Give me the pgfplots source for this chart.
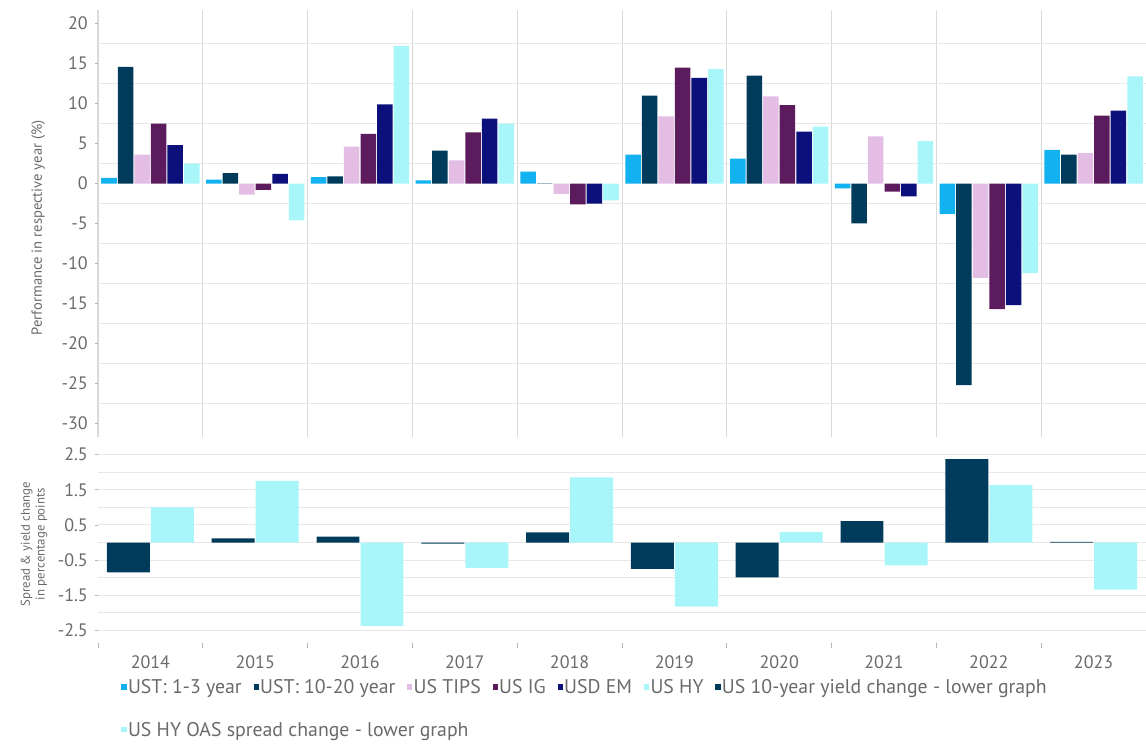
\documentclass[border=0pt]{standalone}
\usepackage{fontspec}
\setmainfont{PT Sans}
\usepackage{pgfplots}
\usepackage{pgfplotstable}
\pgfplotsset{compat=1.18}
\definecolor{c1}{HTML}{12B2F0}
\definecolor{c2}{HTML}{003B5C}
\definecolor{c3}{HTML}{E3BDE3}
\definecolor{c4}{HTML}{5B1B5C}
\definecolor{c5}{HTML}{0B107A}
\definecolor{c6}{HTML}{A9F6FA}
\definecolor{tk}{HTML}{6A6A6A}

\pgfplotstableread{
x a b c d e f
0 0.7 14.6 3.6 7.5 4.8 2.5
1 0.5 1.3 -1.4 -0.8 1.2 -4.6
2 0.8 0.9 4.6 6.2 9.9 17.2
3 0.4 4.1 2.9 6.4 8.1 7.5
4 1.5 -0.05 -1.3 -2.6 -2.5 -2.1
5 3.6 11.0 8.4 14.5 13.2 14.3
6 3.1 13.5 10.9 9.8 6.5 7.1
7 -0.6 -5.0 5.9 -1.0 -1.6 5.3
8 -3.8 -25.2 -11.8 -15.7 -15.2 -11.2
9 4.2 3.6 3.8 8.5 9.1 13.4
}\toptab

\pgfplotstableread{
x y s
0 -0.85 1.0
1 0.12 1.75
2 0.17 -2.37
3 -0.03 -0.72
4 0.29 1.85
5 -0.75 -1.82
6 -0.99 0.3
7 0.61 -0.65
8 2.37 1.63
9 0.02 -1.34
}\lowtab

\begin{document}
\begin{tikzpicture}
\path[use as bounding box] (0,0) rectangle (573pt,372pt);
\pgfplotsset{
  common/.style={
    scale only axis, width=524pt, anchor=south west,
    xmin=-0.5, xmax=9.5,
    axis line style={draw=none},
    tick align=outside,
    major tick length=1.6pt, minor tick length=0pt,
    tick style={tk!50, line width=0.4pt},
    ticklabel style={font=\fontsize{9}{10}\selectfont, text=tk},
    ylabel style={text=tk, align=center, anchor=center},
    minor y grid style={black!9, line width=0.5pt},
    major y grid style={black!9, line width=0.5pt},
    ytick pos=left,
  }
}
% upper axis
\begin{axis}[common,
  at={(49pt,153.5pt)}, height=213.5pt,
  ymin=-31.7, ymax=21.7,
  ytick={-30,-25,...,20},
  yticklabels={-30,-25,-20,-15,-10,-5,0,5,10,15,20},
  minor ytick={-27.5,-22.5,...,17.5},
  yminorgrids,
  xtick={-0.5,0.5,...,8.5}, xticklabels={},
  xmajorgrids, major x grid style={black!15, line width=0.5pt},
  xtick style={draw=none},
  ylabel={Performance in respective year (\%)},
  ylabel style={font=\fontsize{7.3}{8}\selectfont, at={(axis description cs:-0.057,0.49)}},
]
\addplot[ybar, bar width=0.148, bar shift=-0.395, fill=c1, draw=none] table[x=x,y=a]{\toptab};
\addplot[ybar, bar width=0.148, bar shift=-0.237, fill=c2, draw=none] table[x=x,y=b]{\toptab};
\addplot[ybar, bar width=0.148, bar shift=-0.079, fill=c3, draw=none] table[x=x,y=c]{\toptab};
\addplot[ybar, bar width=0.148, bar shift=0.079, fill=c4, draw=none] table[x=x,y=d]{\toptab};
\addplot[ybar, bar width=0.148, bar shift=0.237, fill=c5, draw=none] table[x=x,y=e]{\toptab};
\addplot[ybar, bar width=0.148, bar shift=0.395, fill=c6, draw=none] table[x=x,y=f]{\toptab};
\end{axis}
% lower axis
\begin{axis}[common,
  at={(49pt,50.5pt)}, height=99pt,
  ymin=-2.855, ymax=2.77,
  ytick={-2.5,-1.5,...,2.5},
  yticklabels={-2.5,-1.5,-0.5,0.5,1.5,2.5},
  minor ytick={-2,-1,...,2},
  ymajorgrids, yminorgrids,
  xtick={0,...,9},
  xticklabels={2014,2015,2016,2017,2018,2019,2020,2021,2022,2023},
  xtick pos=bottom,
  major x tick style={draw=none},
  extra x ticks={-0.5,0.5,...,9.5},
  extra x tick labels={},
  extra x tick style={major x tick style={tk!50,draw=tk!50}, major tick length=2.5pt, xmajorgrids=false},
  xticklabel style={yshift=-1pt},
  ylabel={Spread \& yield change\\in percentage points},
  ylabel style={font=\fontsize{6.4}{7.4}\selectfont, at={(axis description cs:-0.061,0.5)}},
  legend columns=7,
  legend cell align=left,
  legend style={at={(axis description cs:0.022,-0.175)}, anchor=north west,
    draw=none, fill=none, font=\fontsize{9.9}{11}\selectfont, text=tk,
    row sep=11pt, inner sep=0pt, nodes={inner sep=0.8pt},
    /tikz/every even column/.append style={column sep=5.1pt},
    /tikz/every odd column/.append style={column sep=0pt}},
]
\addplot[ybar, bar width=0.41, bar shift=-0.21, fill=c2, draw=none, forget plot] table[x=x,y=y]{\lowtab};
\addplot[ybar, bar width=0.41, bar shift=0.21, fill=c6, draw=none, forget plot] table[x=x,y=s]{\lowtab};
\addlegendimage{legend image code/.code={\fill[c1] (0pt,-0.4pt) rectangle (2.1pt,1.7pt);}}
\addlegendentry{UST: 1-3 year}
\addlegendimage{legend image code/.code={\fill[c2] (0pt,-0.4pt) rectangle (2.1pt,1.7pt);}}
\addlegendentry{UST: 10-20 year}
\addlegendimage{legend image code/.code={\fill[c3] (0pt,-0.4pt) rectangle (2.1pt,1.7pt);}}
\addlegendentry{US TIPS}
\addlegendimage{legend image code/.code={\fill[c4] (0pt,-0.4pt) rectangle (2.1pt,1.7pt);}}
\addlegendentry{US IG}
\addlegendimage{legend image code/.code={\fill[c5] (0pt,-0.4pt) rectangle (2.1pt,1.7pt);}}
\addlegendentry{USD EM}
\addlegendimage{legend image code/.code={\fill[c6] (0pt,-0.4pt) rectangle (2.1pt,1.7pt);}}
\addlegendentry{US HY}
\addlegendimage{legend image code/.code={\fill[c2] (0pt,-0.4pt) rectangle (2.1pt,1.7pt);}}
\addlegendentry{US 10-year yield change - lower graph}
\addlegendimage{legend image code/.code={\fill[c6] (0pt,-0.4pt) rectangle (2.1pt,1.7pt);}}
\addlegendentry{\makebox[0pt][l]{US HY OAS spread change - lower graph}}
\end{axis}
\end{tikzpicture}
\end{document}
